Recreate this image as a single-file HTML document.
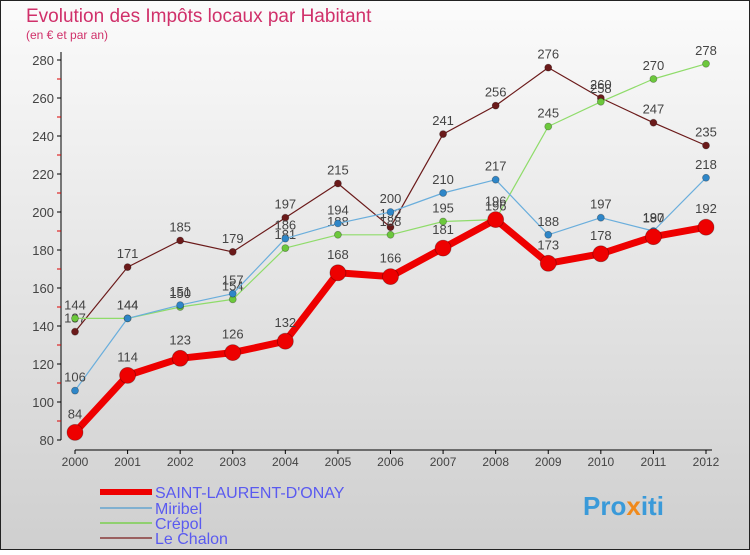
<!DOCTYPE html>
<html><head><meta charset="utf-8"><style>
body{margin:0;width:750px;height:550px;overflow:hidden;font-family:"Liberation Sans",sans-serif}
</style></head><body>
<svg id="c" width="750" height="550" xmlns="http://www.w3.org/2000/svg">
<defs><linearGradient id="bg" x1="0" y1="0" x2="0" y2="1"><stop offset="0" stop-color="#fbfbfb"/><stop offset="1" stop-color="#cfcfcf"/></linearGradient></defs>
<rect x="0.5" y="0.5" width="749" height="549" fill="url(#bg)" stroke="#222"/>
<text x="26" y="22" font-size="19" fill="#d0306a">Evolution des Impôts locaux par Habitant</text>
<text x="26" y="39" font-size="12" fill="#d0306a">(en € et par an)</text>
<g id="axes"></g><g id="series"></g><g id="legend"></g>
<text x="583" y="515" font-size="26" font-weight="bold" fill="#3a9ad9">Pro<tspan fill="#f08a1c">x</tspan>iti</text>
</svg>
<script>
const years=[2000,2001,2002,2003,2004,2005,2006,2007,2008,2009,2010,2011,2012];
const yTicks=[80,100,120,140,160,180,200,220,240,260,280];
const stl=[84,114,123,126,132,168,166,181,196,173,178,187,192];
const miribel=[106,144,151,157,186,194,200,210,217,188,197,190,218];
const crepol=[144,144,150,154,181,188,188,195,196,245,258,270,278];
const chalon=[137,171,185,179,197,215,192,241,256,276,260,247,235];
const NS="http://www.w3.org/2000/svg";
const x=i=>75+i*(706-75)/12;
const y=v=>440-(v-80)*1.9;
function mk(t,a,p){const e=document.createElementNS(NS,t);for(const k in a)e.setAttribute(k,a[k]);p.appendChild(e);return e;}
const ax=document.getElementById('axes');
let l=mk('line',{x1:61,y1:52,x2:61,y2:440,stroke:'#000'},ax);


l=mk('line',{x1:75,y1:450,x2:712,y2:450,stroke:'#000'},ax);


yTicks.forEach((v,i)=>{
 mk('line',{x1:57,y1:y(v),x2:61,y2:y(v),stroke:'#000'},ax);
 if(i<yTicks.length-1)mk('line',{x1:57,y1:y(v+10),x2:61,y2:y(v+10),stroke:'#d00'},ax);
 const t=mk('text',{x:54,y:y(v)+5,'font-size':13,fill:'#444','text-anchor':'end'},ax);t.textContent=v;
 
 
});
years.forEach((yr,i)=>{
 mk('line',{x1:x(i),y1:450,x2:x(i),y2:454,stroke:'#000'},ax);
 const t=mk('text',{x:x(i),y:466,'font-size':12,fill:'#444','text-anchor':'middle'},ax);t.textContent=yr;
 
 
});
const sg=document.getElementById('series');
const series=[[chalon,'#6b1a1a','#6b1a1a',1.2,3.5,'le-chalon'],[crepol,'#8fdc6a','#6cc83c',1.2,3.5,'crepol'],[miribel,'#6aaedc','#2e86c8',1.2,3.5,'miribel'],[stl,'#ee0000','#ee0000',7,8,'saint-laurent-d-onay']];
series.forEach(([d,lc,pc,w,r,n])=>{
 const g=mk('g',{},sg);
 
 
 const p=mk('polyline',{points:d.map((v,i)=>x(i)+','+y(v)).join(' '),fill:'none',stroke:lc,'stroke-width':w,'stroke-linejoin':'round'},g);
 
 
 d.forEach((v,i)=>{
  const c=mk('circle',{cx:x(i),cy:y(v),r:r,fill:pc,stroke:'rgba(0,0,0,0.3)','stroke-width':0.8},g);
  
  
  const t=mk('text',{x:x(i),y:y(v)-(w>3?14:9),'font-size':13,fill:'#444','text-anchor':'middle'},g);t.textContent=v;
  
  
 });
});
const lg=document.getElementById('legend');
const leg=[['SAINT-LAURENT-D\'ONAY','#ee0000',6,492],['Miribel','#80b0d0',2,508],['Crépol','#90d070',2,523],['Le Chalon','#9a6060',2,538]];
leg.forEach(([n,c,w,yy])=>{
 const g=mk('g',{},lg);
 
 
 mk('line',{x1:100,y1:yy,x2:152,y2:yy,stroke:c,'stroke-width':w},g);
 const t=mk('text',{x:155,y:yy+6,'font-size':16,fill:'#5a5af0'},g);t.textContent=n;
});
</script>
</body></html>
